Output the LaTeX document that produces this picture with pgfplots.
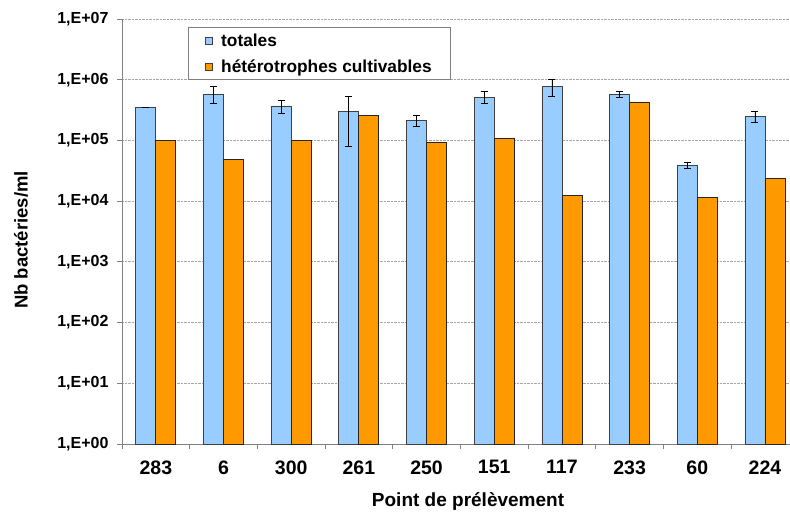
\documentclass[border=0pt]{standalone}
\usepackage{fontspec}
\setmainfont{Liberation Sans}
\usepackage{pgfplots}
\pgfplotsset{compat=1.18}
\usepackage{pgfplotstable}
\definecolor{bleu}{HTML}{99CCFF}
\definecolor{orng}{HTML}{FF9900}
\definecolor{axgray}{HTML}{808080}

\pgfplotstableread{
x tot ep em het
0 355000 0 0 100000
1 580000 200000 170000 48600
2 370000 80000 95000 99000
3 300000 230000 219000 260000
4 210000 50000 40000 94000
5 505000 125000 98000 110000
6 770000 250000 245000 12500
7 580000 50000 60000 430000
8 38300 4700 3800 11500
9 250000 50000 50000 24000
}\data

\begin{document}
\begin{tikzpicture}
\path[use as bounding box] (-122pt,-68pt) rectangle (668pt,444pt);
\begin{axis}[
  scale only axis, width=668pt, height=425pt,
  ymode=log, ymin=1, ymax=1e7, log origin=infty,
  xmin=-0.5, xmax=9.37,
  ybar=0pt, bar width=20pt,
  axis lines*=left,
  axis line style={axgray, line width=0.8pt},
  tick align=outside, major tick length=5pt,
  tick style={axgray, line width=0.8pt},
  xtick={-0.5,0.5,...,8.5}, xticklabels={},
  extra x ticks={0,1,2,3,4,5,6,7,8,9},
  extra x tick labels={283,6,300,261,250,151,117,233,60,224},
  extra x tick style={major tick length=0pt},
  xticklabel style={font=\fontsize{19.5}{22}\selectfont\bfseries, yshift=-13pt},
  ytick={1,10,100,1000,10000,100000,1000000,10000000},
  yticklabels={{1,E+00},{1,E+01},{1,E+02},{1,E+03},{1,E+04},{1,E+05},{1,E+06},{1,E+07}},
  yticklabel style={font=\fontsize{16}{19}\selectfont\bfseries, xshift=-5pt},
  yminorticks=false,
  ymajorgrids,
  grid style={densely dotted, gray!70, line width=0.8pt},
  xlabel={Point de prélèvement},
  xlabel style={font=\fontsize{19}{22}\selectfont\bfseries, at={(axis description cs:0.518,-0.135)}, anchor=center},
  ylabel={Nb bactéries/ml},
  ylabel style={font=\fontsize{18.5}{22}\selectfont\bfseries, at={(axis description cs:-0.151,0.48)}, anchor=center},
  legend style={at={(rel axis cs:0.0988,0.981)}, anchor=north west, draw=axgray, line width=0.8pt,
    font=\fontsize{17.3}{20}\selectfont\bfseries, inner xsep=17pt, inner ysep=4pt, row sep=8pt},
  legend cell align=left,
  legend image code/.code={\draw[#1, draw=black!75, line width=0.8pt] (0pt,-3.5pt) rectangle (7pt,3.5pt); \path (13pt,0pt);},
]
\addplot[fill=bleu, draw=black!75, line width=0.8pt,
  error bars/.cd, y dir=both, y explicit,
  error bar style={black, line width=0.8pt},
  error mark options={rotate=90, black, mark size=3.5pt, line width=0.8pt}]
  table[x=x, y=tot, y error plus=ep, y error minus=em]{\data};
\addlegendentry{totales}
\addplot[fill=orng, draw=black!85, line width=0.8pt]
  table[x=x, y=het]{\data};
\addlegendentry{hétérotrophes cultivables}
\end{axis}
\end{tikzpicture}
\end{document}
